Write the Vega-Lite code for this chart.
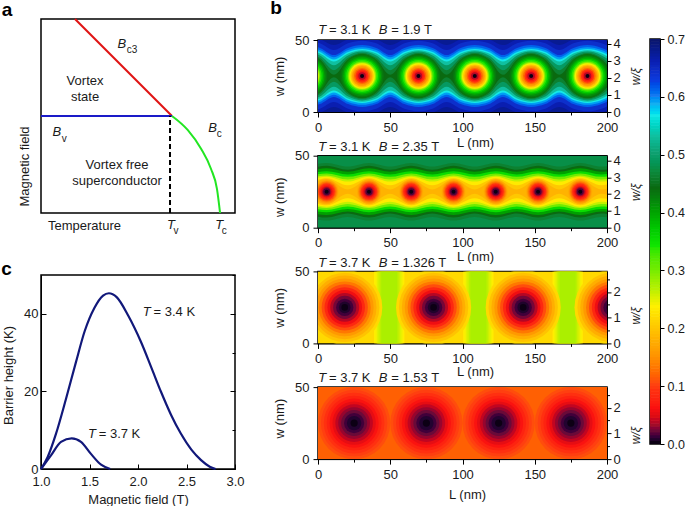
{"$schema":"https://vega.github.io/schema/vega-lite/v6.json","padding":{"left":0,"right":0,"bottom":0,"top":-3},
"config":{"font":"Liberation Sans","view":{"stroke":"#000","strokeWidth":1.5},"axis":{"grid":false,"labelFontSize":13,"titleFontSize":13,"titleFontWeight":"normal","domainColor":"#000","tickColor":"#000","labelColor":"#1a1a1a","titleColor":"#1a1a1a","labelFlush":false,"labelOverlap":false,"titleBaseline":"middle"},"text":{"fontSize":13,"color":"#1a1a1a"}},
"data":{"values":[{"s":0}]},
"datasets":{
"p1a":[{"v":0.675,"L":-8.5,"a":0,"b":50},{"v":0.675,"L":206,"a":0,"b":50},
{"v":0.66,"L":-8.5,"a":-2,"b":52},{"v":0.66,"L":1.3,"a":-0.5,"b":50.5},{"v":0.66,"L":11,"a":3.5,"b":46.5},{"v":0.66,"L":20.8,"a":-0.5,"b":50.5},{"v":0.66,"L":30.5,"a":-2,"b":52},{"v":0.66,"L":40.3,"a":-0.5,"b":50.5},{"v":0.66,"L":50,"a":3.5,"b":46.5},{"v":0.66,"L":59.8,"a":-0.5,"b":50.5},{"v":0.66,"L":69.5,"a":-2,"b":52},{"v":0.66,"L":79.3,"a":-0.5,"b":50.5},{"v":0.66,"L":89,"a":3.5,"b":46.5},{"v":0.66,"L":98.8,"a":-0.5,"b":50.5},{"v":0.66,"L":108.5,"a":-2,"b":52},{"v":0.66,"L":118.3,"a":-0.5,"b":50.5},{"v":0.66,"L":128,"a":3.5,"b":46.5},{"v":0.66,"L":137.8,"a":-0.5,"b":50.5},{"v":0.66,"L":147.5,"a":-2,"b":52},{"v":0.66,"L":157.3,"a":-0.5,"b":50.5},{"v":0.66,"L":167,"a":3.5,"b":46.5},{"v":0.66,"L":176.8,"a":-0.5,"b":50.5},{"v":0.66,"L":186.5,"a":-2,"b":52},{"v":0.66,"L":196.3,"a":-0.5,"b":50.5},{"v":0.66,"L":206,"a":3.5,"b":46.5},
{"v":0.64,"L":-8.5,"a":0.5,"b":49.5},{"v":0.64,"L":1.3,"a":2.3,"b":47.7},{"v":0.64,"L":11,"a":7,"b":43},{"v":0.64,"L":20.8,"a":2.3,"b":47.7},{"v":0.64,"L":30.5,"a":0.5,"b":49.5},{"v":0.64,"L":40.3,"a":2.3,"b":47.7},{"v":0.64,"L":50,"a":7,"b":43},{"v":0.64,"L":59.8,"a":2.3,"b":47.7},{"v":0.64,"L":69.5,"a":0.5,"b":49.5},{"v":0.64,"L":79.3,"a":2.3,"b":47.7},{"v":0.64,"L":89,"a":7,"b":43},{"v":0.64,"L":98.8,"a":2.3,"b":47.7},{"v":0.64,"L":108.5,"a":0.5,"b":49.5},{"v":0.64,"L":118.3,"a":2.3,"b":47.7},{"v":0.64,"L":128,"a":7,"b":43},{"v":0.64,"L":137.8,"a":2.3,"b":47.7},{"v":0.64,"L":147.5,"a":0.5,"b":49.5},{"v":0.64,"L":157.3,"a":2.3,"b":47.7},{"v":0.64,"L":167,"a":7,"b":43},{"v":0.64,"L":176.8,"a":2.3,"b":47.7},{"v":0.64,"L":186.5,"a":0.5,"b":49.5},{"v":0.64,"L":196.3,"a":2.3,"b":47.7},{"v":0.64,"L":206,"a":7,"b":43},
{"v":0.61,"L":-8.5,"a":3.5,"b":46.5},{"v":0.61,"L":1.3,"a":5.5,"b":44.5},{"v":0.61,"L":11,"a":10.5,"b":39.5},{"v":0.61,"L":20.8,"a":5.5,"b":44.5},{"v":0.61,"L":30.5,"a":3.5,"b":46.5},{"v":0.61,"L":40.3,"a":5.5,"b":44.5},{"v":0.61,"L":50,"a":10.5,"b":39.5},{"v":0.61,"L":59.8,"a":5.5,"b":44.5},{"v":0.61,"L":69.5,"a":3.5,"b":46.5},{"v":0.61,"L":79.3,"a":5.5,"b":44.5},{"v":0.61,"L":89,"a":10.5,"b":39.5},{"v":0.61,"L":98.8,"a":5.5,"b":44.5},{"v":0.61,"L":108.5,"a":3.5,"b":46.5},{"v":0.61,"L":118.3,"a":5.5,"b":44.5},{"v":0.61,"L":128,"a":10.5,"b":39.5},{"v":0.61,"L":137.8,"a":5.5,"b":44.5},{"v":0.61,"L":147.5,"a":3.5,"b":46.5},{"v":0.61,"L":157.3,"a":5.5,"b":44.5},{"v":0.61,"L":167,"a":10.5,"b":39.5},{"v":0.61,"L":176.8,"a":5.5,"b":44.5},{"v":0.61,"L":186.5,"a":3.5,"b":46.5},{"v":0.61,"L":196.3,"a":5.5,"b":44.5},{"v":0.61,"L":206,"a":10.5,"b":39.5},
{"v":0.59,"L":-8.5,"a":5,"b":45},{"v":0.59,"L":1.3,"a":7,"b":43},{"v":0.59,"L":11,"a":12,"b":38},{"v":0.59,"L":20.8,"a":7,"b":43},{"v":0.59,"L":30.5,"a":5,"b":45},{"v":0.59,"L":40.3,"a":7,"b":43},{"v":0.59,"L":50,"a":12,"b":38},{"v":0.59,"L":59.8,"a":7,"b":43},{"v":0.59,"L":69.5,"a":5,"b":45},{"v":0.59,"L":79.3,"a":7,"b":43},{"v":0.59,"L":89,"a":12,"b":38},{"v":0.59,"L":98.8,"a":7,"b":43},{"v":0.59,"L":108.5,"a":5,"b":45},{"v":0.59,"L":118.3,"a":7,"b":43},{"v":0.59,"L":128,"a":12,"b":38},{"v":0.59,"L":137.8,"a":7,"b":43},{"v":0.59,"L":147.5,"a":5,"b":45},{"v":0.59,"L":157.3,"a":7,"b":43},{"v":0.59,"L":167,"a":12,"b":38},{"v":0.59,"L":176.8,"a":7,"b":43},{"v":0.59,"L":186.5,"a":5,"b":45},{"v":0.59,"L":196.3,"a":7,"b":43},{"v":0.59,"L":206,"a":12,"b":38},
{"v":0.565,"L":-8.5,"a":6.3,"b":43.7},{"v":0.565,"L":1.3,"a":8.3,"b":41.7},{"v":0.565,"L":11,"a":13.5,"b":36.5},{"v":0.565,"L":20.8,"a":8.3,"b":41.7},{"v":0.565,"L":30.5,"a":6.3,"b":43.7},{"v":0.565,"L":40.3,"a":8.3,"b":41.7},{"v":0.565,"L":50,"a":13.5,"b":36.5},{"v":0.565,"L":59.8,"a":8.3,"b":41.7},{"v":0.565,"L":69.5,"a":6.3,"b":43.7},{"v":0.565,"L":79.3,"a":8.3,"b":41.7},{"v":0.565,"L":89,"a":13.5,"b":36.5},{"v":0.565,"L":98.8,"a":8.3,"b":41.7},{"v":0.565,"L":108.5,"a":6.3,"b":43.7},{"v":0.565,"L":118.3,"a":8.3,"b":41.7},{"v":0.565,"L":128,"a":13.5,"b":36.5},{"v":0.565,"L":137.8,"a":8.3,"b":41.7},{"v":0.565,"L":147.5,"a":6.3,"b":43.7},{"v":0.565,"L":157.3,"a":8.3,"b":41.7},{"v":0.565,"L":167,"a":13.5,"b":36.5},{"v":0.565,"L":176.8,"a":8.3,"b":41.7},{"v":0.565,"L":186.5,"a":6.3,"b":43.7},{"v":0.565,"L":196.3,"a":8.3,"b":41.7},{"v":0.565,"L":206,"a":13.5,"b":36.5},
{"v":0.53,"L":-8.5,"a":7.2,"b":42.8},{"v":0.53,"L":1.3,"a":9.4,"b":40.6},{"v":0.53,"L":11,"a":15,"b":35},{"v":0.53,"L":20.8,"a":9.4,"b":40.6},{"v":0.53,"L":30.5,"a":7.2,"b":42.8},{"v":0.53,"L":40.3,"a":9.4,"b":40.6},{"v":0.53,"L":50,"a":15,"b":35},{"v":0.53,"L":59.8,"a":9.4,"b":40.6},{"v":0.53,"L":69.5,"a":7.2,"b":42.8},{"v":0.53,"L":79.3,"a":9.4,"b":40.6},{"v":0.53,"L":89,"a":15,"b":35},{"v":0.53,"L":98.8,"a":9.4,"b":40.6},{"v":0.53,"L":108.5,"a":7.2,"b":42.8},{"v":0.53,"L":118.3,"a":9.4,"b":40.6},{"v":0.53,"L":128,"a":15,"b":35},{"v":0.53,"L":137.8,"a":9.4,"b":40.6},{"v":0.53,"L":147.5,"a":7.2,"b":42.8},{"v":0.53,"L":157.3,"a":9.4,"b":40.6},{"v":0.53,"L":167,"a":15,"b":35},{"v":0.53,"L":176.8,"a":9.4,"b":40.6},{"v":0.53,"L":186.5,"a":7.2,"b":42.8},{"v":0.53,"L":196.3,"a":9.4,"b":40.6},{"v":0.53,"L":206,"a":15,"b":35},
{"v":0.49,"L":-8.5,"a":8,"b":42},{"v":0.49,"L":1.3,"a":10.7,"b":39.3},{"v":0.49,"L":11,"a":17.5,"b":32.5},{"v":0.49,"L":20.8,"a":10.7,"b":39.3},{"v":0.49,"L":30.5,"a":8,"b":42},{"v":0.49,"L":40.3,"a":10.7,"b":39.3},{"v":0.49,"L":50,"a":17.5,"b":32.5},{"v":0.49,"L":59.8,"a":10.7,"b":39.3},{"v":0.49,"L":69.5,"a":8,"b":42},{"v":0.49,"L":79.3,"a":10.7,"b":39.3},{"v":0.49,"L":89,"a":17.5,"b":32.5},{"v":0.49,"L":98.8,"a":10.7,"b":39.3},{"v":0.49,"L":108.5,"a":8,"b":42},{"v":0.49,"L":118.3,"a":10.7,"b":39.3},{"v":0.49,"L":128,"a":17.5,"b":32.5},{"v":0.49,"L":137.8,"a":10.7,"b":39.3},{"v":0.49,"L":147.5,"a":8,"b":42},{"v":0.49,"L":157.3,"a":10.7,"b":39.3},{"v":0.49,"L":167,"a":17.5,"b":32.5},{"v":0.49,"L":176.8,"a":10.7,"b":39.3},{"v":0.49,"L":186.5,"a":8,"b":42},{"v":0.49,"L":196.3,"a":10.7,"b":39.3},{"v":0.49,"L":206,"a":17.5,"b":32.5},
{"v":0.46,"L":-8.5,"a":9,"b":41},{"v":0.46,"L":1.3,"a":12.4,"b":37.6},{"v":0.46,"L":11,"a":21,"b":29},{"v":0.46,"L":20.8,"a":12.4,"b":37.6},{"v":0.46,"L":30.5,"a":9,"b":41},{"v":0.46,"L":40.3,"a":12.4,"b":37.6},{"v":0.46,"L":50,"a":21,"b":29},{"v":0.46,"L":59.8,"a":12.4,"b":37.6},{"v":0.46,"L":69.5,"a":9,"b":41},{"v":0.46,"L":79.3,"a":12.4,"b":37.6},{"v":0.46,"L":89,"a":21,"b":29},{"v":0.46,"L":98.8,"a":12.4,"b":37.6},{"v":0.46,"L":108.5,"a":9,"b":41},{"v":0.46,"L":118.3,"a":12.4,"b":37.6},{"v":0.46,"L":128,"a":21,"b":29},{"v":0.46,"L":137.8,"a":12.4,"b":37.6},{"v":0.46,"L":147.5,"a":9,"b":41},{"v":0.46,"L":157.3,"a":12.4,"b":37.6},{"v":0.46,"L":167,"a":21,"b":29},{"v":0.46,"L":176.8,"a":12.4,"b":37.6},{"v":0.46,"L":186.5,"a":9,"b":41},{"v":0.46,"L":196.3,"a":12.4,"b":37.6},{"v":0.46,"L":206,"a":21,"b":29},
{"v":0.44,"L":-8.5,"a":9.7,"b":40.3},{"v":0.44,"L":1.3,"a":13.8,"b":36.2},{"v":0.44,"L":11,"a":24.2,"b":25.8},{"v":0.44,"L":20.8,"a":13.8,"b":36.2},{"v":0.44,"L":30.5,"a":9.7,"b":40.3},{"v":0.44,"L":40.3,"a":13.8,"b":36.2},{"v":0.44,"L":50,"a":24.2,"b":25.8},{"v":0.44,"L":59.8,"a":13.8,"b":36.2},{"v":0.44,"L":69.5,"a":9.7,"b":40.3},{"v":0.44,"L":79.3,"a":13.8,"b":36.2},{"v":0.44,"L":89,"a":24.2,"b":25.8},{"v":0.44,"L":98.8,"a":13.8,"b":36.2},{"v":0.44,"L":108.5,"a":9.7,"b":40.3},{"v":0.44,"L":118.3,"a":13.8,"b":36.2},{"v":0.44,"L":128,"a":24.2,"b":25.8},{"v":0.44,"L":137.8,"a":13.8,"b":36.2},{"v":0.44,"L":147.5,"a":9.7,"b":40.3},{"v":0.44,"L":157.3,"a":13.8,"b":36.2},{"v":0.44,"L":167,"a":24.2,"b":25.8},{"v":0.44,"L":176.8,"a":13.8,"b":36.2},{"v":0.44,"L":186.5,"a":9.7,"b":40.3},{"v":0.44,"L":196.3,"a":13.8,"b":36.2},{"v":0.44,"L":206,"a":24.2,"b":25.8}],
"p1r":[{"L":-8.5,"r":15,"v":0.43},{"L":-8.5,"r":14,"v":0.415},{"L":-8.5,"r":13,"v":0.39},{"L":-8.5,"r":12,"v":0.365},{"L":-8.5,"r":11,"v":0.335},{"L":-8.5,"r":10,"v":0.3},{"L":-8.5,"r":9.4,"v":0.27},{"L":-8.5,"r":8.8,"v":0.24},
{"L":30.5,"r":15,"v":0.43},{"L":30.5,"r":14,"v":0.415},{"L":30.5,"r":13,"v":0.39},{"L":30.5,"r":12,"v":0.365},{"L":30.5,"r":11,"v":0.335},{"L":30.5,"r":10,"v":0.3},{"L":30.5,"r":9.4,"v":0.27},{"L":30.5,"r":8.8,"v":0.24},{"L":30.5,"r":8,"v":0.2},{"L":30.5,"r":7.2,"v":0.17},{"L":30.5,"r":6.5,"v":0.15},{"L":30.5,"r":5.6,"v":0.12},{"L":30.5,"r":4.6,"v":0.09},{"L":30.5,"r":3.6,"v":0.065},{"L":30.5,"r":2.6,"v":0.035},{"L":30.5,"r":1.4,"v":0},
{"L":69.5,"r":15,"v":0.43},{"L":69.5,"r":14,"v":0.415},{"L":69.5,"r":13,"v":0.39},{"L":69.5,"r":12,"v":0.365},{"L":69.5,"r":11,"v":0.335},{"L":69.5,"r":10,"v":0.3},{"L":69.5,"r":9.4,"v":0.27},{"L":69.5,"r":8.8,"v":0.24},{"L":69.5,"r":8,"v":0.2},{"L":69.5,"r":7.2,"v":0.17},{"L":69.5,"r":6.5,"v":0.15},{"L":69.5,"r":5.6,"v":0.12},{"L":69.5,"r":4.6,"v":0.09},{"L":69.5,"r":3.6,"v":0.065},{"L":69.5,"r":2.6,"v":0.035},{"L":69.5,"r":1.4,"v":0},
{"L":108.5,"r":15,"v":0.43},{"L":108.5,"r":14,"v":0.415},{"L":108.5,"r":13,"v":0.39},{"L":108.5,"r":12,"v":0.365},{"L":108.5,"r":11,"v":0.335},{"L":108.5,"r":10,"v":0.3},{"L":108.5,"r":9.4,"v":0.27},{"L":108.5,"r":8.8,"v":0.24},{"L":108.5,"r":8,"v":0.2},{"L":108.5,"r":7.2,"v":0.17},{"L":108.5,"r":6.5,"v":0.15},{"L":108.5,"r":5.6,"v":0.12},{"L":108.5,"r":4.6,"v":0.09},{"L":108.5,"r":3.6,"v":0.065},{"L":108.5,"r":2.6,"v":0.035},{"L":108.5,"r":1.4,"v":0},
{"L":147.5,"r":15,"v":0.43},{"L":147.5,"r":14,"v":0.415},{"L":147.5,"r":13,"v":0.39},{"L":147.5,"r":12,"v":0.365},{"L":147.5,"r":11,"v":0.335},{"L":147.5,"r":10,"v":0.3},{"L":147.5,"r":9.4,"v":0.27},{"L":147.5,"r":8.8,"v":0.24},{"L":147.5,"r":8,"v":0.2},{"L":147.5,"r":7.2,"v":0.17},{"L":147.5,"r":6.5,"v":0.15},{"L":147.5,"r":5.6,"v":0.12},{"L":147.5,"r":4.6,"v":0.09},{"L":147.5,"r":3.6,"v":0.065},{"L":147.5,"r":2.6,"v":0.035},{"L":147.5,"r":1.4,"v":0},
{"L":186.5,"r":15,"v":0.43},{"L":186.5,"r":14,"v":0.415},{"L":186.5,"r":13,"v":0.39},{"L":186.5,"r":12,"v":0.365},{"L":186.5,"r":11,"v":0.335},{"L":186.5,"r":10,"v":0.3},{"L":186.5,"r":9.4,"v":0.27},{"L":186.5,"r":8.8,"v":0.24},{"L":186.5,"r":8,"v":0.2},{"L":186.5,"r":7.2,"v":0.17},{"L":186.5,"r":6.5,"v":0.15},{"L":186.5,"r":5.6,"v":0.12},{"L":186.5,"r":4.6,"v":0.09},{"L":186.5,"r":3.6,"v":0.065},{"L":186.5,"r":2.6,"v":0.035},{"L":186.5,"r":1.4,"v":0}],
"p2a":[{"v":0.475,"L":-8.6,"a":0,"b":50},{"v":0.475,"L":210.8,"a":0,"b":50},
{"v":0.46,"L":-8.6,"a":7.5,"b":42.5},{"v":0.46,"L":6,"a":5,"b":45},{"v":0.46,"L":20.6,"a":7.5,"b":42.5},{"v":0.46,"L":35.3,"a":5,"b":45},{"v":0.46,"L":49.9,"a":7.5,"b":42.5},{"v":0.46,"L":64.5,"a":5,"b":45},{"v":0.46,"L":79.1,"a":7.5,"b":42.5},{"v":0.46,"L":93.8,"a":5,"b":45},{"v":0.46,"L":108.4,"a":7.5,"b":42.5},{"v":0.46,"L":123,"a":5,"b":45},{"v":0.46,"L":137.6,"a":7.5,"b":42.5},{"v":0.46,"L":152.3,"a":5,"b":45},{"v":0.46,"L":166.9,"a":7.5,"b":42.5},{"v":0.46,"L":181.5,"a":5,"b":45},{"v":0.46,"L":196.1,"a":7.5,"b":42.5},{"v":0.46,"L":210.8,"a":5,"b":45},
{"v":0.44,"L":-8.6,"a":9.8,"b":40.2},{"v":0.44,"L":6,"a":7,"b":43},{"v":0.44,"L":20.6,"a":9.8,"b":40.2},{"v":0.44,"L":35.3,"a":7,"b":43},{"v":0.44,"L":49.9,"a":9.8,"b":40.2},{"v":0.44,"L":64.5,"a":7,"b":43},{"v":0.44,"L":79.1,"a":9.8,"b":40.2},{"v":0.44,"L":93.8,"a":7,"b":43},{"v":0.44,"L":108.4,"a":9.8,"b":40.2},{"v":0.44,"L":123,"a":7,"b":43},{"v":0.44,"L":137.6,"a":9.8,"b":40.2},{"v":0.44,"L":152.3,"a":7,"b":43},{"v":0.44,"L":166.9,"a":9.8,"b":40.2},{"v":0.44,"L":181.5,"a":7,"b":43},{"v":0.44,"L":196.1,"a":9.8,"b":40.2},{"v":0.44,"L":210.8,"a":7,"b":43},
{"v":0.4,"L":-8.6,"a":11.2,"b":38.8},{"v":0.4,"L":6,"a":8.8,"b":41.2},{"v":0.4,"L":20.6,"a":11.2,"b":38.8},{"v":0.4,"L":35.3,"a":8.8,"b":41.2},{"v":0.4,"L":49.9,"a":11.2,"b":38.8},{"v":0.4,"L":64.5,"a":8.8,"b":41.2},{"v":0.4,"L":79.1,"a":11.2,"b":38.8},{"v":0.4,"L":93.8,"a":8.8,"b":41.2},{"v":0.4,"L":108.4,"a":11.2,"b":38.8},{"v":0.4,"L":123,"a":8.8,"b":41.2},{"v":0.4,"L":137.6,"a":11.2,"b":38.8},{"v":0.4,"L":152.3,"a":8.8,"b":41.2},{"v":0.4,"L":166.9,"a":11.2,"b":38.8},{"v":0.4,"L":181.5,"a":8.8,"b":41.2},{"v":0.4,"L":196.1,"a":11.2,"b":38.8},{"v":0.4,"L":210.8,"a":8.8,"b":41.2},
{"v":0.35,"L":-8.6,"a":13,"b":37},{"v":0.35,"L":6,"a":10.8,"b":39.2},{"v":0.35,"L":20.6,"a":13,"b":37},{"v":0.35,"L":35.3,"a":10.8,"b":39.2},{"v":0.35,"L":49.9,"a":13,"b":37},{"v":0.35,"L":64.5,"a":10.8,"b":39.2},{"v":0.35,"L":79.1,"a":13,"b":37},{"v":0.35,"L":93.8,"a":10.8,"b":39.2},{"v":0.35,"L":108.4,"a":13,"b":37},{"v":0.35,"L":123,"a":10.8,"b":39.2},{"v":0.35,"L":137.6,"a":13,"b":37},{"v":0.35,"L":152.3,"a":10.8,"b":39.2},{"v":0.35,"L":166.9,"a":13,"b":37},{"v":0.35,"L":181.5,"a":10.8,"b":39.2},{"v":0.35,"L":196.1,"a":13,"b":37},{"v":0.35,"L":210.8,"a":10.8,"b":39.2},
{"v":0.3,"L":-8.6,"a":14.7,"b":35.3},{"v":0.3,"L":6,"a":12.3,"b":37.7},{"v":0.3,"L":20.6,"a":14.7,"b":35.3},{"v":0.3,"L":35.3,"a":12.3,"b":37.7},{"v":0.3,"L":49.9,"a":14.7,"b":35.3},{"v":0.3,"L":64.5,"a":12.3,"b":37.7},{"v":0.3,"L":79.1,"a":14.7,"b":35.3},{"v":0.3,"L":93.8,"a":12.3,"b":37.7},{"v":0.3,"L":108.4,"a":14.7,"b":35.3},{"v":0.3,"L":123,"a":12.3,"b":37.7},{"v":0.3,"L":137.6,"a":14.7,"b":35.3},{"v":0.3,"L":152.3,"a":12.3,"b":37.7},{"v":0.3,"L":166.9,"a":14.7,"b":35.3},{"v":0.3,"L":181.5,"a":12.3,"b":37.7},{"v":0.3,"L":196.1,"a":14.7,"b":35.3},{"v":0.3,"L":210.8,"a":12.3,"b":37.7},
{"v":0.26,"L":-8.6,"a":16.5,"b":33.5},{"v":0.26,"L":6,"a":13.7,"b":36.3},{"v":0.26,"L":20.6,"a":16.5,"b":33.5},{"v":0.26,"L":35.3,"a":13.7,"b":36.3},{"v":0.26,"L":49.9,"a":16.5,"b":33.5},{"v":0.26,"L":64.5,"a":13.7,"b":36.3},{"v":0.26,"L":79.1,"a":16.5,"b":33.5},{"v":0.26,"L":93.8,"a":13.7,"b":36.3},{"v":0.26,"L":108.4,"a":16.5,"b":33.5},{"v":0.26,"L":123,"a":13.7,"b":36.3},{"v":0.26,"L":137.6,"a":16.5,"b":33.5},{"v":0.26,"L":152.3,"a":13.7,"b":36.3},{"v":0.26,"L":166.9,"a":16.5,"b":33.5},{"v":0.26,"L":181.5,"a":13.7,"b":36.3},{"v":0.26,"L":196.1,"a":16.5,"b":33.5},{"v":0.26,"L":210.8,"a":13.7,"b":36.3},
{"v":0.23,"L":-8.6,"a":18,"b":32},{"v":0.23,"L":6,"a":14.6,"b":35.4},{"v":0.23,"L":20.6,"a":18,"b":32},{"v":0.23,"L":35.3,"a":14.6,"b":35.4},{"v":0.23,"L":49.9,"a":18,"b":32},{"v":0.23,"L":64.5,"a":14.6,"b":35.4},{"v":0.23,"L":79.1,"a":18,"b":32},{"v":0.23,"L":93.8,"a":14.6,"b":35.4},{"v":0.23,"L":108.4,"a":18,"b":32},{"v":0.23,"L":123,"a":14.6,"b":35.4},{"v":0.23,"L":137.6,"a":18,"b":32},{"v":0.23,"L":152.3,"a":14.6,"b":35.4},{"v":0.23,"L":166.9,"a":18,"b":32},{"v":0.23,"L":181.5,"a":14.6,"b":35.4},{"v":0.23,"L":196.1,"a":18,"b":32},{"v":0.23,"L":210.8,"a":14.6,"b":35.4},
{"v":0.2,"L":-8.6,"a":20.5,"b":29.5},{"v":0.2,"L":6,"a":15.6,"b":34.4},{"v":0.2,"L":20.6,"a":20.5,"b":29.5},{"v":0.2,"L":35.3,"a":15.6,"b":34.4},{"v":0.2,"L":49.9,"a":20.5,"b":29.5},{"v":0.2,"L":64.5,"a":15.6,"b":34.4},{"v":0.2,"L":79.1,"a":20.5,"b":29.5},{"v":0.2,"L":93.8,"a":15.6,"b":34.4},{"v":0.2,"L":108.4,"a":20.5,"b":29.5},{"v":0.2,"L":123,"a":15.6,"b":34.4},{"v":0.2,"L":137.6,"a":20.5,"b":29.5},{"v":0.2,"L":152.3,"a":15.6,"b":34.4},{"v":0.2,"L":166.9,"a":20.5,"b":29.5},{"v":0.2,"L":181.5,"a":15.6,"b":34.4},{"v":0.2,"L":196.1,"a":20.5,"b":29.5},{"v":0.2,"L":210.8,"a":15.6,"b":34.4},
{"v":0.18,"L":-8.6,"a":23.5,"b":26.5},{"v":0.18,"L":6,"a":16.2,"b":33.8},{"v":0.18,"L":20.6,"a":23.5,"b":26.5},{"v":0.18,"L":35.3,"a":16.2,"b":33.8},{"v":0.18,"L":49.9,"a":23.5,"b":26.5},{"v":0.18,"L":64.5,"a":16.2,"b":33.8},{"v":0.18,"L":79.1,"a":23.5,"b":26.5},{"v":0.18,"L":93.8,"a":16.2,"b":33.8},{"v":0.18,"L":108.4,"a":23.5,"b":26.5},{"v":0.18,"L":123,"a":16.2,"b":33.8},{"v":0.18,"L":137.6,"a":23.5,"b":26.5},{"v":0.18,"L":152.3,"a":16.2,"b":33.8},{"v":0.18,"L":166.9,"a":23.5,"b":26.5},{"v":0.18,"L":181.5,"a":16.2,"b":33.8},{"v":0.18,"L":196.1,"a":23.5,"b":26.5},{"v":0.18,"L":210.8,"a":16.2,"b":33.8}],
"p2r":[{"L":6,"r":8.3,"v":0.17},{"L":6,"r":7.6,"v":0.15},{"L":6,"r":7,"v":0.13},{"L":6,"r":6.3,"v":0.11},{"L":6,"r":5.6,"v":0.09},{"L":6,"r":4.8,"v":0.07},{"L":6,"r":4,"v":0.05},{"L":6,"r":3.2,"v":0.03},{"L":6,"r":2.4,"v":0.015},{"L":6,"r":1.4,"v":0},
{"L":35.3,"r":8.3,"v":0.17},{"L":35.3,"r":7.6,"v":0.15},{"L":35.3,"r":7,"v":0.13},{"L":35.3,"r":6.3,"v":0.11},{"L":35.3,"r":5.6,"v":0.09},{"L":35.3,"r":4.8,"v":0.07},{"L":35.3,"r":4,"v":0.05},{"L":35.3,"r":3.2,"v":0.03},{"L":35.3,"r":2.4,"v":0.015},{"L":35.3,"r":1.4,"v":0},
{"L":64.5,"r":8.3,"v":0.17},{"L":64.5,"r":7.6,"v":0.15},{"L":64.5,"r":7,"v":0.13},{"L":64.5,"r":6.3,"v":0.11},{"L":64.5,"r":5.6,"v":0.09},{"L":64.5,"r":4.8,"v":0.07},{"L":64.5,"r":4,"v":0.05},{"L":64.5,"r":3.2,"v":0.03},{"L":64.5,"r":2.4,"v":0.015},{"L":64.5,"r":1.4,"v":0},
{"L":93.8,"r":8.3,"v":0.17},{"L":93.8,"r":7.6,"v":0.15},{"L":93.8,"r":7,"v":0.13},{"L":93.8,"r":6.3,"v":0.11},{"L":93.8,"r":5.6,"v":0.09},{"L":93.8,"r":4.8,"v":0.07},{"L":93.8,"r":4,"v":0.05},{"L":93.8,"r":3.2,"v":0.03},{"L":93.8,"r":2.4,"v":0.015},{"L":93.8,"r":1.4,"v":0},
{"L":123,"r":8.3,"v":0.17},{"L":123,"r":7.6,"v":0.15},{"L":123,"r":7,"v":0.13},{"L":123,"r":6.3,"v":0.11},{"L":123,"r":5.6,"v":0.09},{"L":123,"r":4.8,"v":0.07},{"L":123,"r":4,"v":0.05},{"L":123,"r":3.2,"v":0.03},{"L":123,"r":2.4,"v":0.015},{"L":123,"r":1.4,"v":0},
{"L":152.3,"r":8.3,"v":0.17},{"L":152.3,"r":7.6,"v":0.15},{"L":152.3,"r":7,"v":0.13},{"L":152.3,"r":6.3,"v":0.11},{"L":152.3,"r":5.6,"v":0.09},{"L":152.3,"r":4.8,"v":0.07},{"L":152.3,"r":4,"v":0.05},{"L":152.3,"r":3.2,"v":0.03},{"L":152.3,"r":2.4,"v":0.015},{"L":152.3,"r":1.4,"v":0},
{"L":181.5,"r":8.3,"v":0.17},{"L":181.5,"r":7.6,"v":0.15},{"L":181.5,"r":7,"v":0.13},{"L":181.5,"r":6.3,"v":0.11},{"L":181.5,"r":5.6,"v":0.09},{"L":181.5,"r":4.8,"v":0.07},{"L":181.5,"r":4,"v":0.05},{"L":181.5,"r":3.2,"v":0.03},{"L":181.5,"r":2.4,"v":0.015},{"L":181.5,"r":1.4,"v":0}],
"p3a":[{"v":0.215,"g":0,"L":-10,"a":0,"b":50},{"v":0.215,"g":0,"L":210,"a":0,"b":50},
{"v":0.232,"g":1,"L":38.8,"a":0,"b":50},{"v":0.232,"g":1,"L":59.8,"a":0,"b":50},{"v":0.232,"g":2,"L":100.5,"a":0,"b":50},{"v":0.232,"g":2,"L":121.5,"a":0,"b":50},{"v":0.232,"g":3,"L":162.3,"a":0,"b":50},{"v":0.232,"g":3,"L":183.3,"a":0,"b":50},
{"v":0.24,"g":4,"L":39.8,"a":0,"b":50},{"v":0.24,"g":4,"L":58.8,"a":0,"b":50},{"v":0.24,"g":5,"L":101.5,"a":0,"b":50},{"v":0.24,"g":5,"L":120.5,"a":0,"b":50},{"v":0.24,"g":6,"L":163.3,"a":0,"b":50},{"v":0.24,"g":6,"L":182.3,"a":0,"b":50},
{"v":0.248,"g":7,"L":40.8,"a":0,"b":50},{"v":0.248,"g":7,"L":57.8,"a":0,"b":50},{"v":0.248,"g":8,"L":102.5,"a":0,"b":50},{"v":0.248,"g":8,"L":119.5,"a":0,"b":50},{"v":0.248,"g":9,"L":164.3,"a":0,"b":50},{"v":0.248,"g":9,"L":181.3,"a":0,"b":50},
{"v":0.256,"g":10,"L":41.8,"a":0,"b":50},{"v":0.256,"g":10,"L":56.8,"a":0,"b":50},{"v":0.256,"g":11,"L":103.5,"a":0,"b":50},{"v":0.256,"g":11,"L":118.5,"a":0,"b":50},{"v":0.256,"g":12,"L":165.3,"a":0,"b":50},{"v":0.256,"g":12,"L":180.3,"a":0,"b":50},
{"v":0.264,"g":13,"L":42.8,"a":0,"b":50},{"v":0.264,"g":13,"L":55.8,"a":0,"b":50},{"v":0.264,"g":14,"L":104.5,"a":0,"b":50},{"v":0.264,"g":14,"L":117.5,"a":0,"b":50},{"v":0.264,"g":15,"L":166.3,"a":0,"b":50},{"v":0.264,"g":15,"L":179.3,"a":0,"b":50},
{"v":0.272,"g":16,"L":43.8,"a":0,"b":50},{"v":0.272,"g":16,"L":54.8,"a":0,"b":50},{"v":0.272,"g":17,"L":105.5,"a":0,"b":50},{"v":0.272,"g":17,"L":116.5,"a":0,"b":50},{"v":0.272,"g":18,"L":167.3,"a":0,"b":50},{"v":0.272,"g":18,"L":178.3,"a":0,"b":50}],
"p3r":[{"L":18.5,"r":26,"v":0.215},{"L":80,"r":26,"v":0.215},{"L":142,"r":26,"v":0.215},{"L":203.5,"r":26,"v":0.215},{"L":18.5,"r":24,"v":0.195},{"L":80,"r":24,"v":0.195},{"L":142,"r":24,"v":0.195},{"L":203.5,"r":24,"v":0.195},{"L":18.5,"r":22,"v":0.175},{"L":80,"r":22,"v":0.175},{"L":142,"r":22,"v":0.175},{"L":203.5,"r":22,"v":0.175},{"L":18.5,"r":20,"v":0.155},{"L":80,"r":20,"v":0.155},{"L":142,"r":20,"v":0.155},{"L":203.5,"r":20,"v":0.155},{"L":18.5,"r":18,"v":0.13},{"L":80,"r":18,"v":0.13},{"L":142,"r":18,"v":0.13},{"L":203.5,"r":18,"v":0.13},{"L":18.5,"r":16,"v":0.105},{"L":80,"r":16,"v":0.105},{"L":142,"r":16,"v":0.105},{"L":203.5,"r":16,"v":0.105},{"L":18.5,"r":14,"v":0.08},{"L":80,"r":14,"v":0.08},{"L":142,"r":14,"v":0.08},{"L":203.5,"r":14,"v":0.08},{"L":18.5,"r":12,"v":0.055},{"L":80,"r":12,"v":0.055},{"L":142,"r":12,"v":0.055},{"L":203.5,"r":12,"v":0.055},{"L":18.5,"r":10,"v":0.035},{"L":80,"r":10,"v":0.035},{"L":142,"r":10,"v":0.035},{"L":203.5,"r":10,"v":0.035},{"L":18.5,"r":8,"v":0.022},{"L":80,"r":8,"v":0.022},{"L":142,"r":8,"v":0.022},{"L":203.5,"r":8,"v":0.022},{"L":18.5,"r":6,"v":0.012},{"L":80,"r":6,"v":0.012},{"L":142,"r":6,"v":0.012},{"L":203.5,"r":6,"v":0.012},{"L":18.5,"r":4,"v":0.005},{"L":80,"r":4,"v":0.005},{"L":142,"r":4,"v":0.005},{"L":203.5,"r":4,"v":0.005},{"L":18.5,"r":2.3,"v":0},{"L":80,"r":2.3,"v":0},{"L":142,"r":2.3,"v":0},{"L":203.5,"r":2.3,"v":0}],
"p4a":[{"v":0.115,"L":-10,"a":0,"b":50},{"v":0.115,"L":210,"a":0,"b":50}],
"p4r":[{"L":25,"r":25,"v":0.105},{"L":75,"r":25,"v":0.105},{"L":125,"r":25,"v":0.105},{"L":175,"r":25,"v":0.105},{"L":25,"r":23,"v":0.098},{"L":75,"r":23,"v":0.098},{"L":125,"r":23,"v":0.098},{"L":175,"r":23,"v":0.098},{"L":25,"r":21,"v":0.09},{"L":75,"r":21,"v":0.09},{"L":125,"r":21,"v":0.09},{"L":175,"r":21,"v":0.09},{"L":25,"r":19,"v":0.075},{"L":75,"r":19,"v":0.075},{"L":125,"r":19,"v":0.075},{"L":175,"r":19,"v":0.075},{"L":25,"r":17,"v":0.062},{"L":75,"r":17,"v":0.062},{"L":125,"r":17,"v":0.062},{"L":175,"r":17,"v":0.062},{"L":25,"r":15,"v":0.05},{"L":75,"r":15,"v":0.05},{"L":125,"r":15,"v":0.05},{"L":175,"r":15,"v":0.05},{"L":25,"r":13,"v":0.038},{"L":75,"r":13,"v":0.038},{"L":125,"r":13,"v":0.038},{"L":175,"r":13,"v":0.038},{"L":25,"r":11,"v":0.028},{"L":75,"r":11,"v":0.028},{"L":125,"r":11,"v":0.028},{"L":175,"r":11,"v":0.028},{"L":25,"r":9,"v":0.02},{"L":75,"r":9,"v":0.02},{"L":125,"r":9,"v":0.02},{"L":175,"r":9,"v":0.02},{"L":25,"r":7,"v":0.012},{"L":75,"r":7,"v":0.012},{"L":125,"r":7,"v":0.012},{"L":175,"r":7,"v":0.012},{"L":25,"r":5,"v":0.006},{"L":75,"r":5,"v":0.006},{"L":125,"r":5,"v":0.006},{"L":175,"r":5,"v":0.006},{"L":25,"r":2.5,"v":0},{"L":75,"r":2.5,"v":0},{"L":125,"r":2.5,"v":0},{"L":175,"r":2.5,"v":0}],
"bar":[{"v":0,"u":0.006},{"v":0.005,"u":0.011},{"v":0.01,"u":0.016},{"v":0.015,"u":0.021},{"v":0.02,"u":0.026},{"v":0.025,"u":0.031},{"v":0.03,"u":0.036},{"v":0.035,"u":0.041},{"v":0.04,"u":0.046},{"v":0.045,"u":0.051},{"v":0.05,"u":0.056},{"v":0.055,"u":0.061},{"v":0.06,"u":0.066},{"v":0.065,"u":0.071},{"v":0.07,"u":0.076},{"v":0.075,"u":0.081},{"v":0.08,"u":0.086},{"v":0.085,"u":0.091},{"v":0.09,"u":0.096},{"v":0.095,"u":0.101},{"v":0.1,"u":0.106},{"v":0.105,"u":0.111},{"v":0.11,"u":0.116},{"v":0.115,"u":0.121},{"v":0.12,"u":0.126},{"v":0.125,"u":0.131},{"v":0.13,"u":0.136},{"v":0.135,"u":0.141},{"v":0.14,"u":0.146},{"v":0.145,"u":0.151},{"v":0.15,"u":0.156},{"v":0.155,"u":0.161},{"v":0.16,"u":0.166},{"v":0.165,"u":0.171},{"v":0.17,"u":0.176},{"v":0.175,"u":0.181},{"v":0.18,"u":0.186},{"v":0.185,"u":0.191},{"v":0.19,"u":0.196},{"v":0.195,"u":0.201},{"v":0.2,"u":0.206},{"v":0.205,"u":0.211},{"v":0.21,"u":0.216},{"v":0.215,"u":0.221},{"v":0.22,"u":0.226},{"v":0.225,"u":0.231},{"v":0.23,"u":0.236},{"v":0.235,"u":0.241},{"v":0.24,"u":0.246},{"v":0.245,"u":0.251},{"v":0.25,"u":0.256},{"v":0.255,"u":0.261},{"v":0.26,"u":0.266},{"v":0.265,"u":0.271},{"v":0.27,"u":0.276},{"v":0.275,"u":0.281},{"v":0.28,"u":0.286},{"v":0.285,"u":0.291},{"v":0.29,"u":0.296},{"v":0.295,"u":0.301},{"v":0.3,"u":0.306},{"v":0.305,"u":0.311},{"v":0.31,"u":0.316},{"v":0.315,"u":0.321},{"v":0.32,"u":0.326},{"v":0.325,"u":0.331},{"v":0.33,"u":0.336},{"v":0.335,"u":0.341},{"v":0.34,"u":0.346},{"v":0.345,"u":0.351},{"v":0.35,"u":0.356},{"v":0.355,"u":0.361},{"v":0.36,"u":0.366},{"v":0.365,"u":0.371},{"v":0.37,"u":0.376},{"v":0.375,"u":0.381},{"v":0.38,"u":0.386},{"v":0.385,"u":0.391},{"v":0.39,"u":0.396},{"v":0.395,"u":0.401},{"v":0.4,"u":0.406},{"v":0.405,"u":0.411},{"v":0.41,"u":0.416},{"v":0.415,"u":0.421},{"v":0.42,"u":0.426},{"v":0.425,"u":0.431},{"v":0.43,"u":0.436},{"v":0.435,"u":0.441},{"v":0.44,"u":0.446},{"v":0.445,"u":0.451},{"v":0.45,"u":0.456},{"v":0.455,"u":0.461},{"v":0.46,"u":0.466},{"v":0.465,"u":0.471},{"v":0.47,"u":0.476},{"v":0.475,"u":0.481},{"v":0.48,"u":0.486},{"v":0.485,"u":0.491},{"v":0.49,"u":0.496},{"v":0.495,"u":0.501},{"v":0.5,"u":0.506},{"v":0.505,"u":0.511},{"v":0.51,"u":0.516},{"v":0.515,"u":0.521},{"v":0.52,"u":0.526},{"v":0.525,"u":0.531},{"v":0.53,"u":0.536},{"v":0.535,"u":0.541},{"v":0.54,"u":0.546},{"v":0.545,"u":0.551},{"v":0.55,"u":0.556},{"v":0.555,"u":0.561},{"v":0.56,"u":0.566},{"v":0.565,"u":0.571},{"v":0.57,"u":0.576},{"v":0.575,"u":0.581},{"v":0.58,"u":0.586},{"v":0.585,"u":0.591},{"v":0.59,"u":0.596},{"v":0.595,"u":0.601},{"v":0.6,"u":0.606},{"v":0.605,"u":0.611},{"v":0.61,"u":0.616},{"v":0.615,"u":0.621},{"v":0.62,"u":0.626},{"v":0.625,"u":0.631},{"v":0.63,"u":0.636},{"v":0.635,"u":0.641},{"v":0.64,"u":0.646},{"v":0.645,"u":0.651},{"v":0.65,"u":0.656},{"v":0.655,"u":0.661},{"v":0.66,"u":0.666},{"v":0.665,"u":0.671},{"v":0.67,"u":0.676},{"v":0.675,"u":0.681},{"v":0.68,"u":0.686},{"v":0.685,"u":0.691},{"v":0.69,"u":0.696},{"v":0.695,"u":0.7}]
},
"spacing":5,
"hconcat":[
{"bounds":"flush","spacing":11,"vconcat":[
{"width":223,"height":1,"view":{"stroke":null},"mark":{"type":"point","opacity":0},"encoding":{}},
{"bounds":"flush","spacing":62,"vconcat":[
{"width":194,"height":194,"layer":[
{"data":{"values":[{"x":0.175,"y":1,"k":"Bc3"},{"x":0.675,"y":0.5,"k":"Bc3"},{"x":0,"y":0.5,"k":"Bv"},{"x":0.675,"y":0.5,"k":"Bv"},{"x":0.675,"y":0.5,"k":"Bc"},{"x":0.756,"y":0.428,"k":"Bc"},{"x":0.825,"y":0.331,"k":"Bc"},{"x":0.876,"y":0.228,"k":"Bc"},{"x":0.907,"y":0.124,"k":"Bc"},{"x":0.923,"y":0,"k":"Bc"}]},
"mark":{"type":"line","interpolate":"monotone","strokeWidth":2},
"encoding":{"x":{"field":"x","type":"quantitative","scale":{"domain":[0,1],"nice":false},"axis":{"ticks":false,"labels":false,"domain":false,"title":"Temperature","titleX":43,"titleY":12}},"y":{"field":"y","type":"quantitative","scale":{"domain":[0,1],"nice":false},"axis":{"ticks":false,"labels":false,"domain":false,"title":"Magnetic field","titleX":-17,"titleY":147}},"color":{"field":"k","type":"nominal","scale":{"domain":["Bc3","Bv","Bc"],"range":["#e01414","#1a1ac8","#22e622"]},"legend":null}}},
{"data":{"values":[{"x":0.665,"y":0},{"x":0.665,"y":0.5}]},"mark":{"type":"line","color":"#000","strokeWidth":2,"strokeDash":[5,3]},"encoding":{"x":{"field":"x","type":"quantitative"},"y":{"field":"y","type":"quantitative"}}},
{"data":{"values":[{"t":"Vortex","x":0.227,"y":0.679},{"t":"state","x":0.227,"y":0.598},{"t":"Vortex free","x":0.392,"y":0.246},{"t":"superconductor","x":0.392,"y":0.163}]},"mark":{"type":"text"},"encoding":{"x":{"field":"x","type":"quantitative"},"y":{"field":"y","type":"quantitative"},"text":{"field":"t"}}},
{"data":{"values":[{"t":"B","x":0.416,"y":0.873},{"t":"B","x":0.082,"y":0.418},{"t":"B","x":0.885,"y":0.438},{"t":"T","x":0.67,"y":-0.06},{"t":"T","x":0.919,"y":-0.06}]},"mark":{"type":"text","fontStyle":"italic"},"encoding":{"x":{"field":"x","type":"quantitative"},"y":{"field":"y","type":"quantitative"},"text":{"field":"t"}}},
{"data":{"values":[{"t":"c3","x":0.469,"y":0.842},{"t":"v","x":0.12,"y":0.383},{"t":"c","x":0.919,"y":0.409},{"t":"v","x":0.696,"y":-0.094},{"t":"c","x":0.945,"y":-0.094}]},"mark":{"type":"text","fontSize":10},"encoding":{"x":{"field":"x","type":"quantitative"},"y":{"field":"y","type":"quantitative"},"text":{"field":"t"}}},
{"data":{"values":[{"t":"a","x":-0.175,"y":1.046}]},"mark":{"type":"text","fontSize":19,"fontWeight":"bold","color":"#000"},"encoding":{"x":{"field":"x","type":"quantitative"},"y":{"field":"y","type":"quantitative"},"text":{"field":"t"}}}
]},
{"width":194,"height":194,"resolve":{"scale":{"y":"independent"}},"layer":[
{"layer":[
{"data":{"values":[{"B":1,"h":0,"c":"3.4"},{"B":1.069,"h":3.1,"c":"3.4"},{"B":1.155,"h":9.1,"c":"3.4"},{"B":1.258,"h":18.1,"c":"3.4"},{"B":1.361,"h":27.6,"c":"3.4"},{"B":1.45,"h":35.5,"c":"3.4"},{"B":1.55,"h":41.5,"c":"3.4"},{"B":1.64,"h":44.7,"c":"3.4"},{"B":1.7,"h":45.3,"c":"3.4"},{"B":1.78,"h":44.3,"c":"3.4"},{"B":1.9,"h":39.5,"c":"3.4"},{"B":2.03,"h":32.8,"c":"3.4"},{"B":2.14,"h":26,"c":"3.4"},{"B":2.237,"h":19.9,"c":"3.4"},{"B":2.34,"h":14,"c":"3.4"},{"B":2.44,"h":9.2,"c":"3.4"},{"B":2.55,"h":5,"c":"3.4"},{"B":2.65,"h":2.3,"c":"3.4"},{"B":2.74,"h":0.6,"c":"3.4"},{"B":2.8,"h":0,"c":"3.4"},{"B":1,"h":0,"c":"3.7"},{"B":1.103,"h":3.5,"c":"3.7"},{"B":1.206,"h":7,"c":"3.7"},{"B":1.316,"h":7.9,"c":"3.7"},{"B":1.412,"h":7,"c":"3.7"},{"B":1.515,"h":3.9,"c":"3.7"},{"B":1.619,"h":1.1,"c":"3.7"},{"B":1.714,"h":0,"c":"3.7"}]},
"mark":{"type":"line","interpolate":"monotone","color":"#11187a","strokeWidth":2.2},
"encoding":{"x":{"field":"B","type":"quantitative","scale":{"domain":[1,3],"nice":false},"axis":{"title":"Magnetic field (T)","values":[1,1.25,1.5,1.75,2,2.25,2.5,2.75,3],"labelExpr":"datum.value*2 % 1 === 0 ? format(datum.value,'.1f') : ''","tickSize":{"condition":{"test":"datum.value*2 % 1 === 0","value":-5},"value":-3},"labelPadding":11,"titleX":97,"titleY":30}},"y":{"field":"h","type":"quantitative","scale":{"domain":[0,50],"nice":false},"axis":{"title":"Barrier height (K)","values":[0,10,20,30,40,50],"labelExpr":"datum.value % 20 === 0 ? datum.label : ''","tickSize":{"condition":{"test":"datum.value % 20 === 0","value":-5},"value":-3},"labelPadding":8,"titleX":-33,"titleY":100}},"detail":{"field":"c"}}},
{"data":{"values":[{"B":2.09,"h":40.5,"t":"T"},{"B":1.525,"h":8.9,"t":"T"}]},"mark":{"type":"text","fontStyle":"italic"},"encoding":{"x":{"field":"B","type":"quantitative"},"y":{"field":"h","type":"quantitative"},"text":{"field":"t"}}},
{"data":{"values":[{"B":2.16,"h":40.5,"t":"= 3.4 K"},{"B":1.595,"h":8.9,"t":"= 3.7 K"}]},"mark":{"type":"text","align":"left"},"encoding":{"x":{"field":"B","type":"quantitative"},"y":{"field":"h","type":"quantitative"},"text":{"field":"t"}}},
{"data":{"values":[{"t":"c","B":0.644,"h":51.6}]},"mark":{"type":"text","fontSize":19,"fontWeight":"bold","color":"#000"},"encoding":{"x":{"field":"B","type":"quantitative"},"y":{"field":"h","type":"quantitative"},"text":{"field":"t"}}}
]},
{"data":{"values":[{"h":0},{"h":50}]},"mark":{"type":"rule","opacity":0},"encoding":{"y":{"field":"h","type":"quantitative","scale":{"domain":[0,50],"nice":false},"axis":{"orient":"right","title":null,"labels":false,"domain":false,"values":[0,10,20,30,40,50],"tickSize":{"condition":{"test":"datum.value % 20 === 0","value":-5},"value":-3}}}}}
]}
]}
]},
{"bounds":"flush","spacing":32,"vconcat":[
{"width":1,"height":1,"view":{"stroke":null},"mark":{"type":"point","opacity":0},"encoding":{}},
{"bounds":"flush","spacing":43.7,"vconcat":[
{"width":289,"height":72,"view":{"stroke":"#000","strokeWidth":1.5},"resolve":{"scale":{"y":"independent"}},"layer":[
{"encoding":{"x":{"field":"L","type":"quantitative","scale":{"domain":[0,200],"nice":false},"axis":{"values":[0,25,50,75,100,125,150,175,200],"labelExpr":"datum.value % 50 === 0 ? datum.label : ''","tickSize":{"condition":{"test":"datum.value % 50 === 0","value":5},"value":3},"labelPadding":4,"title":"L (nm)","titleX":157,"titleY":30}},"color":{"field":"v","type":"quantitative","legend":null,"scale":{"domain":[0,0.008,0.02,0.03,0.045,0.06,0.09,0.1,0.15,0.2,0.235,0.265,0.3,0.34,0.37,0.4,0.44,0.47,0.5,0.53,0.565,0.585,0.6,0.625,0.66,0.7],"range":["#0c0014","#2a0038","#6a0a38","#a00c28","#dc0c14","#fa1010","#ff3010","#ff4210","#ff9400","#ffc800","#fff000","#b8f000","#70ec00","#10e600","#00c800","#00a000","#0a6a10","#0c8c40","#0ea070","#10c0a0","#14e8e8","#14b0f0","#1478f0","#0a3ce0","#0a1eb0","#0a1464"]}}},
"layer":[
{"data":{"name":"p1a"},"mark":{"type":"area","interpolate":"monotone","clip":true},"encoding":{"y":{"field":"a","type":"quantitative","scale":{"domain":[0,50],"nice":false},"axis":{"values":[0,25,50],"tickSize":5,"labelPadding":4,"title":"w (nm)","titleX":-39,"titleY":36}},"y2":{"field":"b"},"detail":{"field":"v"}}},
{"data":{"name":"p1r"},"mark":{"type":"point","filled":true,"opacity":1,"shape":"circle","clip":true,"strokeWidth":0},"encoding":{"y":{"datum":25,"type":"quantitative"},"size":{"field":"r","type":"quantitative","scale":{"type":"pow","exponent":2,"domain":[0,50],"range":[0,20880]},"legend":null}}},
{"data":{"values":[{"t":"T","L":3,"w":57},{"t":"B","L":45,"w":57}]},"mark":{"type":"text","fontStyle":"italic"},"encoding":{"y":{"field":"w","type":"quantitative"},"text":{"field":"t"},"color":{"value":"#1a1a1a"}}},
{"data":{"values":[{"t":"= 3.1 K","L":7.6,"w":57},{"t":"= 1.9 T","L":50.7,"w":57}]},"mark":{"type":"text","align":"left"},"encoding":{"y":{"field":"w","type":"quantitative"},"text":{"field":"t"},"color":{"value":"#1a1a1a"}}},
{"data":{"values":[{"t":"b","L":-29,"w":72.4}]},"mark":{"type":"text","fontSize":19,"fontWeight":"bold"},"encoding":{"y":{"field":"w","type":"quantitative"},"text":{"field":"t"},"color":{"value":"#000"}}}
]},
{"data":{"values":[{"xi":0},{"xi":4}]},"mark":{"type":"rule","opacity":0},"encoding":{"y":{"field":"xi","type":"quantitative","scale":{"domain":[0,4.21],"nice":false},"axis":{"orient":"right","values":[0,1,2,3,4],"tickSize":4,"labelPadding":2,"title":"w/ξ","titleFontStyle":"italic","titleFontSize":12,"titleAngle":270,"titleX":28,"titleY":36}}}}
]},
{"width":289,"height":72,"resolve":{"scale":{"y":"independent"}},"layer":[
{"encoding":{"x":{"field":"L","type":"quantitative","scale":{"domain":[0,200],"nice":false},"axis":{"values":[0,25,50,75,100,125,150,175,200],"labelExpr":"datum.value % 50 === 0 ? datum.label : ''","tickSize":{"condition":{"test":"datum.value % 50 === 0","value":5},"value":3},"labelPadding":4,"title":"L (nm)","titleX":157,"titleY":29}},"color":{"field":"v","type":"quantitative","legend":null,"scale":{"domain":[0,0.008,0.02,0.03,0.045,0.06,0.09,0.1,0.15,0.2,0.235,0.265,0.3,0.34,0.37,0.4,0.44,0.47,0.5,0.53,0.565,0.585,0.6,0.625,0.66,0.7],"range":["#0c0014","#2a0038","#6a0a38","#a00c28","#dc0c14","#fa1010","#ff3010","#ff4210","#ff9400","#ffc800","#fff000","#b8f000","#70ec00","#10e600","#00c800","#00a000","#0a6a10","#0c8c40","#0ea070","#10c0a0","#14e8e8","#14b0f0","#1478f0","#0a3ce0","#0a1eb0","#0a1464"]}}},
"layer":[
{"data":{"name":"p2a"},"mark":{"type":"area","interpolate":"monotone","clip":true},"encoding":{"y":{"field":"a","type":"quantitative","scale":{"domain":[0,50],"nice":false},"axis":{"values":[0,25,50],"tickSize":5,"labelPadding":4,"title":"w (nm)","titleX":-39,"titleY":41}},"y2":{"field":"b"},"detail":{"field":"v"}}},
{"data":{"name":"p2r"},"mark":{"type":"point","filled":true,"opacity":1,"shape":"circle","clip":true,"strokeWidth":0},"encoding":{"y":{"datum":25,"type":"quantitative"},"size":{"field":"r","type":"quantitative","scale":{"type":"pow","exponent":2,"domain":[0,50],"range":[0,20880]},"legend":null}}},
{"data":{"values":[{"t":"T","L":3,"w":55.8},{"t":"B","L":45,"w":55.8}]},"mark":{"type":"text","fontStyle":"italic"},"encoding":{"y":{"field":"w","type":"quantitative"},"text":{"field":"t"},"color":{"value":"#1a1a1a"}}},
{"data":{"values":[{"t":"= 3.1 K","L":7.6,"w":55.8},{"t":"= 2.35 T","L":50.7,"w":55.8}]},"mark":{"type":"text","align":"left"},"encoding":{"y":{"field":"w","type":"quantitative"},"text":{"field":"t"},"color":{"value":"#1a1a1a"}}}
]},
{"data":{"values":[{"xi":0},{"xi":4}]},"mark":{"type":"rule","opacity":0},"encoding":{"y":{"field":"xi","type":"quantitative","scale":{"domain":[0,4.28],"nice":false},"axis":{"orient":"right","values":[0,1,2,3,4],"tickSize":4,"labelPadding":2,"title":"w/ξ","titleFontStyle":"italic","titleFontSize":12,"titleAngle":270,"titleX":28,"titleY":36}}}}
]},
{"width":289,"height":72,"resolve":{"scale":{"y":"independent"}},"layer":[
{"encoding":{"x":{"field":"L","type":"quantitative","scale":{"domain":[0,200],"nice":false},"axis":{"values":[0,25,50,75,100,125,150,175,200],"labelExpr":"datum.value % 50 === 0 ? datum.label : ''","tickSize":{"condition":{"test":"datum.value % 50 === 0","value":5},"value":3},"labelPadding":4,"title":"L (nm)","titleX":157,"titleY":28}},"color":{"field":"v","type":"quantitative","legend":null,"scale":{"domain":[0,0.008,0.02,0.03,0.045,0.06,0.09,0.1,0.15,0.2,0.235,0.265,0.3,0.34,0.37,0.4,0.44,0.47,0.5,0.53,0.565,0.585,0.6,0.625,0.66,0.7],"range":["#0c0014","#2a0038","#6a0a38","#a00c28","#dc0c14","#fa1010","#ff3010","#ff4210","#ff9400","#ffc800","#fff000","#b8f000","#70ec00","#10e600","#00c800","#00a000","#0a6a10","#0c8c40","#0ea070","#10c0a0","#14e8e8","#14b0f0","#1478f0","#0a3ce0","#0a1eb0","#0a1464"]}}},
"layer":[
{"data":{"name":"p3a"},"mark":{"type":"area","clip":true},"encoding":{"y":{"field":"a","type":"quantitative","scale":{"domain":[0,50],"nice":false},"axis":{"values":[0,25,50],"tickSize":5,"labelPadding":4,"title":"w (nm)","titleX":-39,"titleY":36}},"y2":{"field":"b"},"detail":{"field":"g"}}},
{"data":{"name":"p3r"},"mark":{"type":"point","filled":true,"opacity":1,"shape":"circle","clip":true,"strokeWidth":0},"encoding":{"y":{"datum":25,"type":"quantitative"},"size":{"field":"r","type":"quantitative","scale":{"type":"pow","exponent":2,"domain":[0,50],"range":[0,20880]},"legend":null}}},
{"data":{"values":[{"t":"T","L":3,"w":56},{"t":"B","L":45,"w":56}]},"mark":{"type":"text","fontStyle":"italic"},"encoding":{"y":{"field":"w","type":"quantitative"},"text":{"field":"t"},"color":{"value":"#1a1a1a"}}},
{"data":{"values":[{"t":"= 3.7 K","L":7.6,"w":56},{"t":"= 1.326 T","L":50.7,"w":56}]},"mark":{"type":"text","align":"left"},"encoding":{"y":{"field":"w","type":"quantitative"},"text":{"field":"t"},"color":{"value":"#1a1a1a"}}}
]},
{"data":{"values":[{"xi":0},{"xi":2.5}]},"mark":{"type":"rule","opacity":0},"encoding":{"y":{"field":"xi","type":"quantitative","scale":{"domain":[0,2.8],"nice":false},"axis":{"orient":"right","values":[0,0.5,1,1.5,2,2.5],"labelExpr":"datum.value % 1 === 0 ? format(datum.value,'d') : ''","tickSize":{"condition":{"test":"datum.value % 1 === 0","value":4},"value":2.5},"labelPadding":2,"title":"w/ξ","titleFontStyle":"italic","titleFontSize":12,"titleAngle":270,"titleX":28,"titleY":44}}}}
]},
{"width":289,"height":72,"resolve":{"scale":{"y":"independent"}},"layer":[
{"encoding":{"x":{"field":"L","type":"quantitative","scale":{"domain":[0,200],"nice":false},"axis":{"values":[0,25,50,75,100,125,150,175,200],"labelExpr":"datum.value % 50 === 0 ? datum.label : ''","tickSize":{"condition":{"test":"datum.value % 50 === 0","value":5},"value":3},"labelPadding":4,"title":"L (nm)","titleX":149,"titleY":35}},"color":{"field":"v","type":"quantitative","legend":null,"scale":{"domain":[0,0.008,0.02,0.03,0.045,0.06,0.09,0.1,0.15,0.2,0.235,0.265,0.3,0.34,0.37,0.4,0.44,0.47,0.5,0.53,0.565,0.585,0.6,0.625,0.66,0.7],"range":["#0c0014","#2a0038","#6a0a38","#a00c28","#dc0c14","#fa1010","#ff3010","#ff4210","#ff9400","#ffc800","#fff000","#b8f000","#70ec00","#10e600","#00c800","#00a000","#0a6a10","#0c8c40","#0ea070","#10c0a0","#14e8e8","#14b0f0","#1478f0","#0a3ce0","#0a1eb0","#0a1464"]}}},
"layer":[
{"data":{"name":"p4a"},"mark":{"type":"area","clip":true},"encoding":{"y":{"field":"a","type":"quantitative","scale":{"domain":[0,50],"nice":false},"axis":{"values":[0,25,50],"tickSize":5,"labelPadding":4,"title":"w (nm)","titleX":-39,"titleY":31}},"y2":{"field":"b"},"detail":{"field":"v"}}},
{"data":{"name":"p4r"},"mark":{"type":"point","filled":true,"opacity":1,"shape":"circle","clip":true,"strokeWidth":0},"encoding":{"y":{"datum":25,"type":"quantitative"},"size":{"field":"r","type":"quantitative","scale":{"type":"pow","exponent":2,"domain":[0,50],"range":[0,20880]},"legend":null}}},
{"data":{"values":[{"t":"T","L":3,"w":56},{"t":"B","L":45,"w":56}]},"mark":{"type":"text","fontStyle":"italic"},"encoding":{"y":{"field":"w","type":"quantitative"},"text":{"field":"t"},"color":{"value":"#1a1a1a"}}},
{"data":{"values":[{"t":"= 3.7 K","L":7.6,"w":56},{"t":"= 1.53 T","L":50.7,"w":56}]},"mark":{"type":"text","align":"left"},"encoding":{"y":{"field":"w","type":"quantitative"},"text":{"field":"t"},"color":{"value":"#1a1a1a"}}}
]},
{"data":{"values":[{"xi":0},{"xi":2.5}]},"mark":{"type":"rule","opacity":0},"encoding":{"y":{"field":"xi","type":"quantitative","scale":{"domain":[0,2.8],"nice":false},"axis":{"orient":"right","values":[0,0.5,1,1.5,2,2.5],"labelExpr":"datum.value % 1 === 0 ? format(datum.value,'d') : ''","tickSize":{"condition":{"test":"datum.value % 1 === 0","value":4},"value":2.5},"labelPadding":2,"title":"w/ξ","titleFontStyle":"italic","titleFontSize":12,"titleAngle":270,"titleX":28,"titleY":48}}}}
]}
]}
]},
{"bounds":"flush","spacing":31,"vconcat":[
{"width":1,"height":1,"view":{"stroke":null},"mark":{"type":"point","opacity":0},"encoding":{}},
{"width":10,"height":405,"data":{"name":"bar"},"mark":{"type":"rect"},"encoding":{"y":{"field":"v","type":"quantitative","scale":{"domain":[0,0.7],"nice":false},"axis":{"orient":"right","values":[0,0.1,0.2,0.3,0.4,0.5,0.6,0.7],"format":".1f","tickSize":4,"labelPadding":3,"labelFontSize":12.5,"title":null}},"y2":{"field":"u"},"color":{"field":"v","type":"quantitative","legend":null,"scale":{"domain":[0,0.008,0.02,0.03,0.045,0.06,0.09,0.1,0.15,0.2,0.235,0.265,0.3,0.34,0.37,0.4,0.44,0.47,0.5,0.53,0.565,0.585,0.6,0.625,0.66,0.7],"range":["#0c0014","#2a0038","#6a0a38","#a00c28","#dc0c14","#fa1010","#ff3010","#ff4210","#ff9400","#ffc800","#fff000","#b8f000","#70ec00","#10e600","#00c800","#00a000","#0a6a10","#0c8c40","#0ea070","#10c0a0","#14e8e8","#14b0f0","#1478f0","#0a3ce0","#0a1eb0","#0a1464"]}}}}
]}
]}
